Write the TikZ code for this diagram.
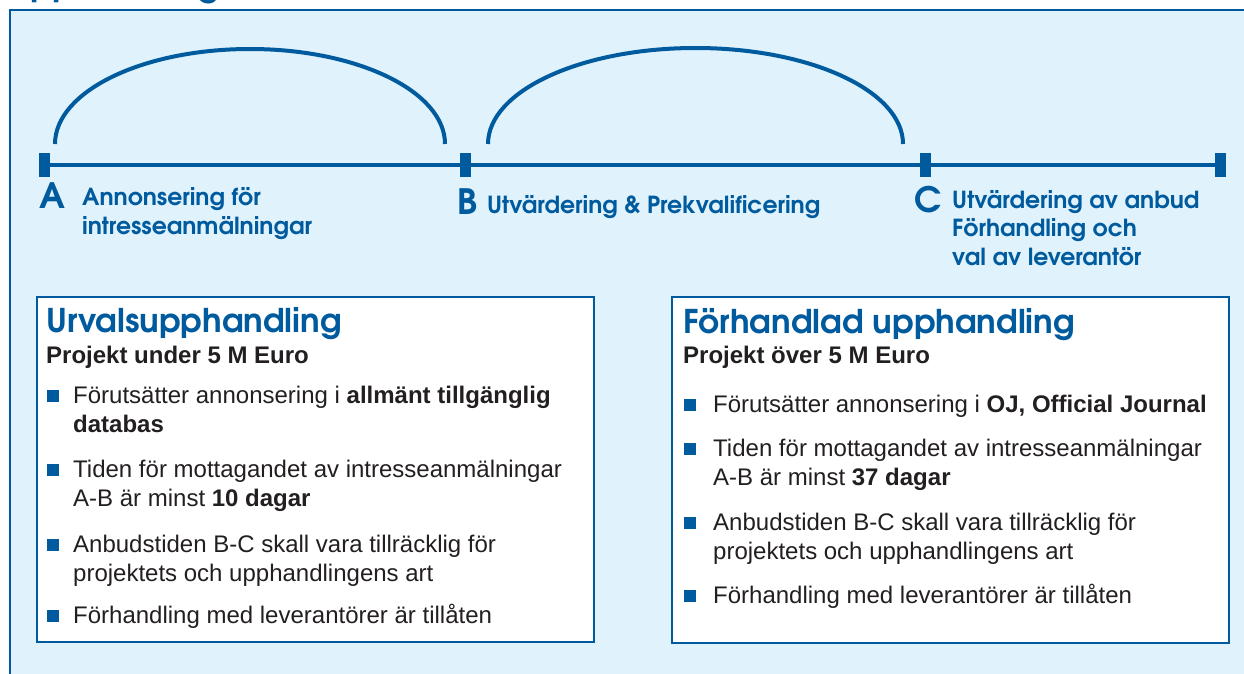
\documentclass[tikz,border=0pt]{standalone}
\usepackage{fontspec}
\setmainfont{Liberation Sans}
\newfontfamily\geo{texgyreadventor}[Extension=.otf, UprightFont=*-regular, BoldFont=*-bold]
\definecolor{ublue}{RGB}{0,91,158}
\definecolor{panelc}{RGB}{224,242,252}
\definecolor{txt}{RGB}{35,31,32}
\tikzset{
  tl/.style={font=\geo\bfseries\fontsize{23.5}{28.5}\selectfont, text=ublue, anchor=base west, inner sep=0pt, align=left},
  letter/.style={font=\geo\bfseries\fontsize{35}{35}\selectfont, text=ublue, anchor=base west, inner sep=0pt},
  hdr/.style={font=\geo\bfseries\fontsize{32.7}{36}\selectfont, text=ublue, anchor=base west, inner sep=0pt},
  subh/.style={font=\bfseries\fontsize{24}{29}\selectfont, text=txt, anchor=base west, inner sep=0pt},
  body/.style={font=\fontsize{24}{29}\selectfont, text=txt, anchor=base west, inner sep=0pt, align=left},
  bul/.style={fill=ublue, minimum size=12pt, inner sep=0pt},
  tickmark/.style={fill=ublue, minimum width=11pt, minimum height=24pt, inner sep=0pt},
  boxst/.style={draw=ublue, fill=white, line width=1.5pt},
  arcst/.style={draw=ublue, line width=4pt}
}
\begin{document}
\begin{tikzpicture}[x=1pt,y=-1pt]
\useasboundingbox (0,0) rectangle (1244,674);
\clip (0,0) rectangle (1244,674);
\fill[white] (0,0) rectangle (1244,674);
% clipped title
\node[hdr, font=\geo\bfseries\fontsize{34}{36}\selectfont] (title) at (8,-3.5) {Upphandling};
% panel
\draw[draw=ublue, fill=panelc, line width=1.5pt] (10,10) rectangle (1260,690);
% timeline
\node[tickmark] (tA) at (44,165) {};
\node[tickmark] (tB) at (465,165) {};
\node[tickmark] (tC) at (925,165) {};
\node[tickmark] (tE) at (1220,165) {};
\draw[ublue, line width=4.5pt] (tA.center) -- (tE.center);
\foreach \t in {tA,tB,tC,tE} \node[tickmark] at (\t) {};
% arcs
\coordinate (a1) at (55,144);
\coordinate (a2) at (488,144);
\draw[arcst] (a1) arc[start angle=180, end angle=360, x radius=195, y radius=95];
\draw[arcst] (a2) arc[start angle=180, end angle=360, x radius=207.5, y radius=96];
% labels (multi-line nodes are anchored at the baseline of their last line)
\node[letter] (lA) at (39,208) {A};
\node[tl] (tlA) at (82,234) {Annonsering för\\intresseanmälningar};
\node[letter] (lB) at (457,214) {B};
\node[tl] (tlB) at (487,213) {Utvärdering \& Prekvalificering};
\node[letter] (lC) at (914,212) {C};
\node[tl] (tlC) at (952,265) {Utvärdering av anbud\\Förhandling och\\val av leverantör};
% left box
\draw[boxst] (37,297) rectangle (594,642);
\node[hdr] (h1) at (46,332) {Urvalsupphandling};
\node[subh] (s1) at (46,363) {Projekt under 5 M Euro};
\node[bul] (b11) at (53,395.5) {};
\node[body] (t11) at (73,432) {Förutsätter annonsering i {\bfseries allmänt tillgänglig}\\{\bfseries databas}};
\node[bul] (b12) at (53,469.5) {};
\node[body] (t12) at (73,506) {Tiden för mottagandet av intresseanmälningar\\A-B är minst {\bfseries 10 dagar}};
\node[bul] (b13) at (53,544.5) {};
\node[body] (t13) at (73,581) {Anbudstiden B-C skall vara tillräcklig för\\projektets och upphandlingens art};
\node[bul] (b14) at (53,615.5) {};
\node[body] (t14) at (73,623) {Förhandling med leverantörer är tillåten};
% right box
\draw[boxst] (672,297) rectangle (1229,643);
\node[hdr] (h2) at (683,333) {Förhandlad upphandling};
\node[subh] (s2) at (683,363) {Projekt över 5 M Euro};
\node[bul] (b21) at (690,404.5) {};
\node[body] (t21) at (713,412) {Förutsätter annonsering i {\bfseries OJ, Official Journal}};
\node[bul] (b22) at (690,448.5) {};
\node[body] (t22) at (713,485) {Tiden för mottagandet av intresseanmälningar\\A-B är minst {\bfseries 37 dagar}};
\node[bul] (b23) at (690,522.5) {};
\node[body] (t23) at (713,559) {Anbudstiden B-C skall vara tillräcklig för\\projektets och upphandlingens art};
\node[bul] (b24) at (690,595.5) {};
\node[body] (t24) at (713,603) {Förhandling med leverantörer är tillåten};
\end{tikzpicture}
\end{document}
